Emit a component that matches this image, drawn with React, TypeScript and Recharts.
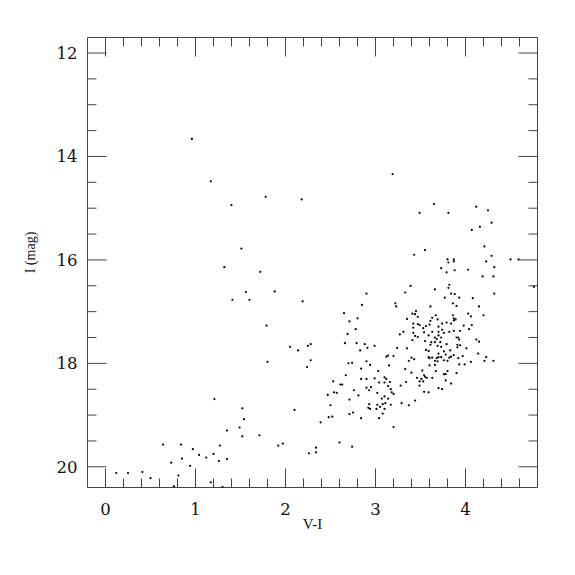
import { ScatterChart, Scatter, XAxis, YAxis, ReferenceArea, Label } from 'recharts';

// colour–magnitude diagram, V-I vs I (mag)
// points, grouped roughly by where they sit
const faintBlue: [number, number][] = [
  [0.12, 20.12], [0.25, 20.12], [0.41, 20.1], [0.5, 20.22], [0.81, 20.17], [0.76, 20.38],
  [1.17, 20.3], [1.3, 20.39], [0.64, 19.57], [0.84, 19.57], [0.97, 19.66], [1.04, 19.77],
  [1.12, 19.82], [1.2, 19.75], [1.27, 19.59], [0.73, 19.92], [0.85, 19.84], [0.94, 19.98],
  [1.26, 19.89], [1.35, 19.85], [1.35, 19.3], [1.49, 19.24], [1.52, 19.41], [1.71, 19.39],
  [1.92, 19.59], [1.97, 19.55], [2.26, 19.74], [2.34, 19.72], [2.34, 19.63], [2.6, 19.53],
  [2.74, 19.61], [1.21, 18.69], [1.52, 18.87], [1.54, 19.08], [2.1, 18.9],
];

const brightField: [number, number][] = [
  [0.96, 13.66], [1.17, 14.48], [1.78, 14.78], [2.18, 14.83], [1.4, 14.94], [1.51, 15.78],
  [1.32, 16.14], [1.72, 16.23], [1.56, 16.62], [1.88, 16.61], [1.41, 16.77], [1.6, 16.77],
  [2.19, 16.8], [1.79, 17.27], [2.05, 17.68], [2.14, 17.75], [2.25, 17.66], [2.28, 17.63],
  [1.8, 17.97], [2.28, 17.94], [2.24, 18.07], [3.19, 14.34],
];

const redBright: [number, number][] = [
  [4.12, 14.97], [4.25, 15.04], [4.29, 15.28], [4.16, 15.36], [4.07, 15.42], [4.21, 15.74],
  [4.29, 15.92], [4.23, 16.03], [4.5, 15.99], [4.59, 15.99], [4.32, 16.14], [4.03, 16.19],
  [4.19, 16.32], [4.31, 16.32], [4.76, 16.52], [4.32, 16.65], [4.08, 16.74], [4.15, 16.9],
  [3.65, 14.92], [3.49, 15.09], [3.81, 15.09], [3.55, 15.81], [3.43, 15.9], [3.8, 15.99],
  [3.87, 15.99], [3.81, 16.05], [3.87, 16.03], [3.73, 16.16], [3.79, 16.24], [3.88, 16.2],
  [3.39, 16.5], [3.82, 16.48], [3.81, 16.54], [3.66, 16.57], [3.33, 16.63], [2.9, 16.65],
  [3.84, 16.65], [3.88, 16.66], [3.77, 16.73], [3.93, 16.73],
];

const clumpUpper: [number, number][] = [
  [3.22, 16.84], [3.23, 16.9], [2.85, 16.87], [2.65, 17.03], [3.35, 17.14], [2.71, 17.19],
  [2.8, 17.13], [2.78, 17.34], [3.31, 17.39], [3.27, 17.44], [2.69, 17.43], [2.66, 17.61],
  [2.79, 17.61], [2.88, 17.63], [2.99, 17.66], [2.91, 17.7], [2.83, 17.75], [3.24, 17.7],
  [3.35, 17.71], [3.14, 17.85], [3.12, 17.87], [3.2, 17.86],
  [3.86, 16.84], [3.9, 16.89], [3.61, 16.9], [3.45, 16.99], [3.41, 17.04], [3.44, 17.05],
  [4.03, 17.04], [4.06, 17.09], [4.2, 17.07], [3.67, 17.07], [3.86, 17.07], [3.47, 17.1],
  [3.63, 17.12], [3.87, 17.13], [3.89, 17.15], [3.87, 17.17], [3.69, 17.15], [3.61, 17.18],
  [3.79, 17.21], [3.84, 17.23], [3.74, 17.23], [3.47, 17.24], [3.49, 17.26], [3.6, 17.25],
  [3.56, 17.28], [3.42, 17.23], [3.98, 17.27], [4.07, 17.26], [3.42, 17.31], [3.7, 17.29],
  [3.53, 17.32], [3.74, 17.35], [4.04, 17.34], [3.63, 17.39], [3.82, 17.39], [3.87, 17.37],
  [3.94, 17.37], [3.42, 17.41], [3.54, 17.4], [3.7, 17.39], [3.76, 17.41], [3.59, 17.46],
  [3.7, 17.46], [3.73, 17.5], [3.66, 17.5], [3.68, 17.53], [3.9, 17.5], [3.92, 17.5],
  [3.44, 17.47], [3.47, 17.49], [3.41, 17.55], [3.93, 17.54], [4.12, 17.54], [3.55, 17.57],
  [3.62, 17.59], [3.66, 17.59], [3.72, 17.59], [4.15, 17.58], [3.79, 17.63], [3.69, 17.66],
  [3.91, 17.64], [3.94, 17.65], [3.61, 17.64], [3.73, 17.68], [4.01, 17.71], [3.91, 17.69],
  [3.56, 17.74], [3.59, 17.76], [3.76, 17.77], [3.83, 17.75], [4.14, 17.81], [3.7, 17.81],
  [3.78, 17.83], [3.87, 17.84], [3.59, 17.88], [3.6, 17.9], [3.63, 17.89], [3.68, 17.9],
  [3.7, 17.88], [3.73, 17.88], [3.82, 17.89], [3.92, 17.9], [3.4, 17.89], [3.43, 17.92],
  [4.23, 17.88], [4.31, 17.95],
];

const clumpLower: [number, number][] = [
  [3.37, 17.95], [2.7, 18.0], [2.74, 17.99], [2.9, 17.96], [2.94, 18.03], [3.15, 18.04],
  [2.84, 18.1], [3.33, 18.11], [3.03, 18.15], [2.67, 18.23], [2.84, 18.3], [2.9, 18.3],
  [2.99, 18.29], [3.1, 18.27], [3.12, 18.3], [2.53, 18.35], [3.04, 18.37], [3.1, 18.37],
  [3.16, 18.36], [3.34, 18.36], [2.61, 18.41], [2.63, 18.41], [3.28, 18.43], [3.14, 18.44],
  [2.9, 18.47], [2.95, 18.46], [3.17, 18.5], [2.93, 18.52], [2.76, 18.52], [2.54, 18.56],
  [2.57, 18.57], [3.18, 18.56], [3.2, 18.59], [3.02, 18.57], [2.81, 18.62], [3.1, 18.64],
  [3.07, 18.68], [3.14, 18.68], [2.71, 18.7], [3.08, 18.79], [3.11, 18.77], [3.17, 18.8],
  [3.29, 18.77], [3.37, 18.81], [2.93, 18.79], [3.02, 18.8], [3.05, 18.84], [2.92, 18.86],
  [2.94, 18.88], [3.01, 18.88], [3.1, 18.88], [3.08, 18.97], [2.47, 18.61], [2.5, 18.81],
  [2.39, 19.14], [2.48, 19.04], [2.52, 19.03], [2.71, 18.98], [2.75, 18.95], [2.84, 19.06],
  [3.04, 19.06], [3.2, 19.23],
  [3.76, 17.94], [3.8, 17.95], [3.84, 17.87], [3.66, 17.95], [3.69, 17.96], [3.97, 17.86],
  [4.06, 17.97], [4.21, 17.95], [3.93, 18.02], [3.99, 18.02], [3.6, 18.04], [3.66, 18.03],
  [3.52, 18.14], [3.67, 18.15], [3.8, 18.15], [3.4, 18.18], [3.76, 18.21], [3.78, 18.21],
  [3.9, 18.19], [3.54, 18.23], [3.55, 18.26], [3.57, 18.28], [3.46, 18.28], [3.63, 18.28],
  [3.51, 18.3], [3.49, 18.35], [3.53, 18.35], [3.78, 18.33], [3.84, 18.39], [3.49, 18.43],
  [3.7, 18.48], [3.74, 18.5], [3.54, 18.55], [3.59, 18.56], [3.44, 18.72],
];

const X_DOMAIN: [number, number] = [-0.2, 4.8];
const Y_DOMAIN: [number, number] = [11.7, 20.4];
const X_TICKS = [0, 0.2, 0.4, 0.6, 0.8, 1, 1.2, 1.4, 1.6, 1.8, 2, 2.2, 2.4, 2.6, 2.8, 3, 3.2, 3.4, 3.6, 3.8, 4, 4.2, 4.4, 4.6];
const Y_TICKS = [12, 12.5, 13, 13.5, 14, 14.5, 15, 15.5, 16, 16.5, 17, 17.5, 18, 18.5, 19, 19.5, 20];

const stars = [...faintBlue, ...brightField, ...redBright, ...clumpUpper, ...clumpLower].map(([vi, mag]) => ({ vi, mag }));

const SIZE = 575;
const PLOT_TOP = 37.5;
const PLOT_RIGHT = 537.5;
const AXIS_W = 87.5;
const INK = '#444';
const NUM_FONT = '"DejaVu Serif", serif';
const TITLE_FONT = '"Liberation Serif", "DejaVu Serif", serif';

function XTick({ x, y, payload }: { x?: number; y?: number; payload?: { value: number } }) {
  if (x == null || y == null || !payload) return null;
  const major = Number.isInteger(payload.value);
  const len = major ? 19 : 9;
  return (
    <g>
      <line x1={x} x2={x} y1={y} y2={y - len} stroke={INK} strokeWidth={1} />
      <line x1={x} x2={x} y1={PLOT_TOP} y2={PLOT_TOP + len} stroke={INK} strokeWidth={1} />
      {major && (
        <text x={x} y={y + 27} textAnchor="middle" fontSize={16.5} fontFamily={NUM_FONT} fill="#111">
          {payload.value}
        </text>
      )}
    </g>
  );
}

function YTick({ x, y, payload }: { x?: number; y?: number; payload?: { value: number } }) {
  if (x == null || y == null || !payload) return null;
  const major = payload.value % 2 === 0;
  const len = major ? 19 : 9;
  return (
    <g>
      <line x1={x} x2={x + len} y1={y} y2={y} stroke={INK} strokeWidth={1} />
      <line x1={PLOT_RIGHT} x2={PLOT_RIGHT - len} y1={y} y2={y} stroke={INK} strokeWidth={1} />
      {major && (
        <text x={x - 10} y={y + 6} textAnchor="end" fontSize={16.5} fontFamily={NUM_FONT} fill="#111">
          {payload.value}
        </text>
      )}
    </g>
  );
}

function YTitle({ viewBox }: { viewBox?: { x: number; y: number; width: number; height: number } }) {
  if (!viewBox) return null;
  const cx = viewBox.x + 30;
  const cy = viewBox.y + viewBox.height / 2 - 10;
  return (
    <text
      x={cx}
      y={cy}
      transform={`rotate(-90, ${cx}, ${cy})`}
      textAnchor="middle"
      dominantBaseline="central"
      fontSize={14}
      fontFamily={TITLE_FONT}
      fill="#111"
    >
      I (mag)
    </text>
  );
}

function Dot({ cx, cy }: { cx?: number; cy?: number }) {
  if (cx == null || cy == null) return null;
  return <circle cx={cx} cy={cy} r={1.1} fill="#000" />;
}

export default function App() {
  return (
    <div style={{ position: 'absolute', left: 0, top: 0, width: SIZE, height: SIZE, background: '#fff' }}>
      <ScatterChart width={SIZE} height={SIZE} margin={{ top: PLOT_TOP, right: SIZE - PLOT_RIGHT, bottom: 0, left: 0 }}>
        <XAxis
          type="number"
          dataKey="vi"
          domain={X_DOMAIN}
          ticks={X_TICKS}
          interval={0}
          height={AXIS_W}
          tickSize={0}
          tickMargin={0}
          axisLine={false}
          tickLine={false}
          tick={<XTick />}
          allowDataOverflow
        >
          <Label
            value="V-I"
            position="insideBottom"
            offset={46}
            style={{ fontSize: 15, fontFamily: TITLE_FONT, fill: '#111' }}
          />
        </XAxis>
        <YAxis
          type="number"
          dataKey="mag"
          domain={Y_DOMAIN}
          reversed
          ticks={Y_TICKS}
          interval={0}
          width={AXIS_W}
          tickSize={0}
          tickMargin={0}
          axisLine={false}
          tickLine={false}
          tick={<YTick />}
          allowDataOverflow
        >
          <Label content={<YTitle />} />
        </YAxis>
        <ReferenceArea
          x1={X_DOMAIN[0]}
          x2={X_DOMAIN[1]}
          y1={Y_DOMAIN[0]}
          y2={Y_DOMAIN[1]}
          fill="none"
          stroke={INK}
          strokeWidth={1}
          ifOverflow="visible"
        />
        <Scatter data={stars} shape={<Dot />} isAnimationActive={false} />
      </ScatterChart>
    </div>
  );
}
